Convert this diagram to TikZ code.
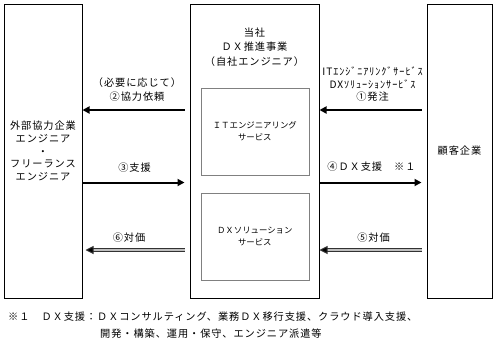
\documentclass[tikz,border=0pt]{standalone}
\usepackage{fontspec}
\newfontfamily\jp[LetterSpace=9]{Noto Sans CJK JP}
\newfontfamily\jpsmall{Noto Sans CJK JP}
\usetikzlibrary{arrows.meta,positioning}

\begin{document}
\begin{tikzpicture}[x=1pt, y=-1pt,
  every node/.style={font=\jp\fontsize{10.2}{12.8}\selectfont, align=center, inner sep=0pt},
  party/.style={draw, line width=1pt, minimum width=#1, minimum height=294pt},
  svc/.style={draw=gray, line width=0.6pt, minimum width=108pt, minimum height=87pt, font=\jpsmall\fontsize{8.4}{12}\selectfont},
  arr/.style={line width=2pt, -{Triangle[length=7pt, width=7pt]}},
  pay/.style={draw=black!80, line width=1pt, double=gray!50, double distance=1.4pt, -{Triangle[length=8pt, width=8pt, fill=black]}}
]
\useasboundingbox (0,0) rectangle (498,346);
% the three parties
\node[party=78pt] (ext) at (43,151) {外部協力企業\\エンジニア\\・\\フリーランス\\エンジニア};
\node[party=129pt] (dx) at (254.5,151) {};
\node[party=65pt] (cust) at (459.5,151) {顧客企業};
\node[font=\jp\fontsize{10.2}{14.5}\selectfont] (dxname) at (254.5,47) {当社\\ＤＸ推進事業\\（自社エンジニア）};
% services inside
\node[svc] (its) at (254.8,131.5) {ＩＴエンジニアリング\\サービス};
\node[svc] (dxs) at (254.8,236.5) {ＤＸソリューション\\サービス};
% arrow rows
\coordinate (row1) at (0,110);
\coordinate (row2) at (0,182.5);
\coordinate (row3) at (0,250);
\draw[arr, shorten <=5pt] (dx.west |- row1) -- (ext.east |- row1);
\draw[arr, shorten <=5pt] (cust.west |- row1) -- (dx.east |- row1);
\draw[arr, shorten >=5pt] (ext.east |- row2) -- (dx.west |- row2);
\draw[arr, shorten >=5pt] (dx.east |- row2) -- (cust.west |- row2);
\draw[pay, shorten <=5pt, shorten >=3pt] (dx.west |- row3) -- (ext.east |- row3);
\draw[pay, shorten <=5pt] (cust.west |- row3) -- (dx.east |- row3);
% labels
\node[font=\jp\fontsize{10.2}{14}\selectfont] (req) at (137,90) {（必要に応じて）\\②協力依頼};
\node[font=\jp\fontsize{10.2}{12.5}\selectfont] (ord) at (372.5,84.5) {ITｴﾝｼﾞﾆｱﾘﾝｸﾞｻｰﾋﾞｽ\\DXｿﾘｭｰｼｮﾝｻｰﾋﾞｽ\\①発注};
\node (sup) at (134.5,168) {③支援};
\node (dxsup) at (371.5,167) {④ＤＸ支援　※１};
\node (fee5) at (373.5,238) {⑤対価};
\node (fee6) at (129,238) {⑥対価};
% footnote
\node[anchor=west] (note1) at (8,317) {※１　ＤＸ支援：ＤＸコンサルティング、業務ＤＸ移行支援、クラウド導入支援、};
\node[anchor=west] (note2) at (100,334) {開発・構築、運用・保守、エンジニア派遣等};
\end{tikzpicture}
\end{document}
